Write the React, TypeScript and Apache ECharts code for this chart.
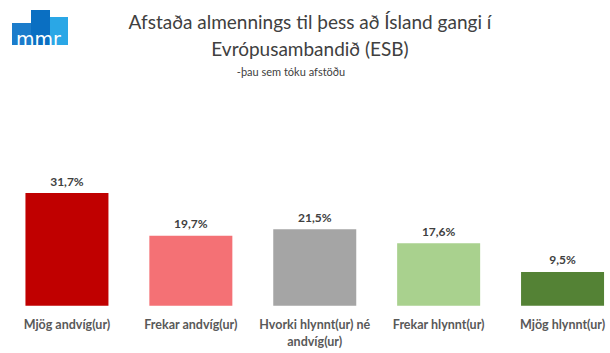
import React, { useEffect, useRef } from "react";
import * as echarts from "echarts";

const categories = [
  "Mjög andvíg(ur)",
  "Frekar andvíg(ur)",
  "Hvorki hlynnt(ur) né\nandvíg(ur)",
  "Frekar hlynnt(ur)",
  "Mjög hlynnt(ur)",
];
const values = [31.7, 19.7, 21.5, 17.6, 9.5];
const barColors = ["#c00000", "#f47175", "#a5a5a5", "#a9d18e", "#548235"];
const titleLine = "Afstaða almennings til þess að Ísland gangi í\nEvrópusambandið (ESB)";
const subtitle = "-þau sem tóku afstöðu";

const FONT = "Lato";

export default function App() {
  const ref = useRef<HTMLDivElement>(null);
  useEffect(() => {
    if (!ref.current) return;
    const chart = echarts.init(ref.current, undefined, { renderer: "svg" });
    chart.setOption({
      animation: false,
      backgroundColor: "#ffffff",
      title: [
        {
          text: titleLine,
          left: 305,
          top: 3,
          textAlign: "center",
          textStyle: {
            fontFamily: FONT,
            fontSize: 19,
            fontWeight: "normal",
            color: "#404040",
            lineHeight: 27,
            align: "center",
          },
        },
        {
          text: subtitle,
          left: 286,
          top: 61,
          textAlign: "center",
          textStyle: {
            fontFamily: FONT,
            fontSize: 11,
            fontWeight: "normal",
            color: "#404040",
          },
        },
      ],
      graphic: [
        { type: "rect", shape: { x: 12, y: 23, width: 19, height: 22 }, style: { fill: "#1b7ccb" } },
        { type: "rect", shape: { x: 31, y: 10, width: 19, height: 35 }, style: { fill: "#0a6fc2" } },
        { type: "rect", shape: { x: 50, y: 17, width: 18, height: 28 }, style: { fill: "#2aa7e6" } },
        {
          type: "text",
          x: 38.5,
          y: 38.5,
          style: {
            text: "mmr",
            fill: "#ffffff",
            fontFamily: "DejaVu Sans",
            fontSize: 19,
            align: "center",
            verticalAlign: "middle",
          },
        },
      ],
      grid: { left: 5, width: 619.5, top: 181.4, bottom: 47.3, containLabel: false },
      xAxis: {
        type: "category",
        data: categories,
        axisLine: { show: false },
        axisTick: { show: false },
        axisLabel: {
          interval: 0,
          margin: 10,
          fontFamily: FONT,
          fontSize: 12.5,
          fontWeight: "bold",
          color: "#595959",
          lineHeight: 17,
        },
      },
      yAxis: {
        type: "value",
        min: 0,
        max: 35,
        show: false,
        splitLine: { show: false },
      },
      series: [
        {
          type: "bar",
          barWidth: 83,
          data: values.map((v, i) => ({ value: v, itemStyle: { color: barColors[i] } })),
          label: {
            show: true,
            position: "top",
            distance: 6,
            formatter: (p: any) => p.value.toFixed(1).replace(".", ",") + "%",
            fontFamily: FONT,
            fontSize: 12,
            fontWeight: "bold",
            color: "#404040",
          },
        },
      ],
    });
    return () => chart.dispose();
  }, []);
  return (
    <div
      ref={ref}
      style={{ position: "fixed", left: 0, top: 0, width: 640, height: 353 }}
    />
  );
}
